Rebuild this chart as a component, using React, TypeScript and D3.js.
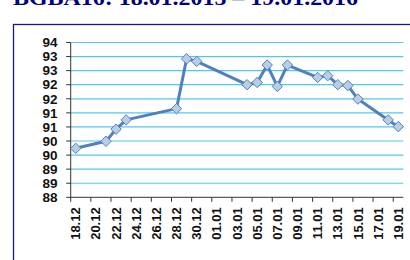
import React from 'react';
import * as d3 from 'd3';

// every calendar day on the axis (one band each)
const axisDays = [
  '18.12', '19.12', '20.12', '21.12', '22.12', '23.12', '24.12', '25.12', '26.12', '27.12',
  '28.12', '29.12', '30.12', '31.12', '01.01', '02.01', '03.01', '04.01', '05.01', '06.01',
  '07.01', '08.01', '09.01', '10.01', '11.01', '12.01', '13.01', '14.01', '15.01', '16.01',
  '17.01', '18.01', '19.01',
];

// trading days with a quote
const pointDates = [
  '18.12', '21.12', '22.12', '23.12', '28.12', '29.12', '30.12', '04.01', '05.01', '06.01',
  '07.01', '08.01', '11.01', '12.01', '13.01', '14.01', '15.01', '18.01', '19.01',
];
const pointValues = [
  90.14, 90.39, 90.82, 91.15, 91.55, 93.32, 93.23, 92.4, 92.48, 93.1,
  92.34, 93.1, 92.66, 92.72, 92.4, 92.37, 91.89, 91.15, 90.91,
];

const yTicks = [88.4, 88.9, 89.4, 89.9, 90.4, 90.9, 91.4, 91.9, 92.4, 92.9, 93.4, 93.9];

const title = 'BGBA16: 18.01.2015 – 19.01.2016';

const App: React.FC = () => {
  const width = 410;
  const height = 260;
  const plot = { left: 70.7, right: 403.3, top: 42.5, bottom: 197.3 };

  const x = d3.scaleBand<string>().domain(axisDays).range([plot.left, plot.right]).padding(0);
  const y = d3.scaleLinear().domain([88.4, 93.9]).range([plot.bottom, plot.top]);
  const fmt = d3.format('.0f');

  const pts = pointDates.map((d, i) => ({ d, v: pointValues[i] }));
  const line = d3.line<{ d: string; v: number }>()
    .x(p => (x(p.d) || 0) + x.bandwidth() / 2)
    .y(p => y(p.v));

  const labelDays = axisDays.filter((_, i) => i % 2 === 0);
  const font = 'Arial, "Liberation Sans", sans-serif';
  const diamond = 5.2;

  return (
    <svg width={width} height={height} style={{ position: 'fixed', left: 0, top: 0, background: '#fff' }}>
      {/* cropped title */}
      <text x={13} y={4.5} textLength={345} lengthAdjust="spacingAndGlyphs"
        fontFamily='"Liberation Serif", "Times New Roman", serif' fontWeight="bold" fontSize={21} fill="#000080">
        {title}
      </text>
      {/* chart frame */}
      <rect x={13.5} y={24.5} width={420} height={260} fill="none" stroke="#1a1a80" strokeWidth={1.3} />

      {/* gridlines */}
      {yTicks.slice(1).map(t => (
        <line key={t} x1={plot.left} x2={plot.right} y1={y(t)} y2={y(t)} stroke="#50C8F0" strokeWidth={1.2} />
      ))}

      {/* y axis */}
      <line x1={plot.left} x2={plot.left} y1={plot.top} y2={plot.bottom} stroke="#333" strokeWidth={1} />
      {yTicks.map(t => (
        <g key={t}>
          <line x1={plot.left - 4.5} x2={plot.left} y1={y(t)} y2={y(t)} stroke="#333" strokeWidth={1} />
          <text x={57.5} y={y(t)} dy="0.35em" textAnchor="end" fontFamily={font} fontWeight="bold" fontSize={13.5} fill="#111">
            {fmt(t)}
          </text>
        </g>
      ))}

      {/* x axis */}
      <line x1={plot.left} x2={plot.right} y1={plot.bottom} y2={plot.bottom} stroke="#333" strokeWidth={1} />
      {labelDays.map(d => {
        const x0 = x(d) || 0;
        const cx = x0 + x.bandwidth() / 2;
        return (
          <g key={d}>
            <line x1={x0} x2={x0} y1={plot.bottom} y2={plot.bottom + 4.5} stroke="#333" strokeWidth={1} />
            <text transform={`translate(${cx},${plot.bottom + 10}) rotate(-90)`} dy="0.35em" textAnchor="end"
              fontFamily={font} fontWeight="bold" fontSize={13} fill="#111">
              {d}
            </text>
          </g>
        );
      })}

      {/* series */}
      <path d={line(pts) || ''} fill="none" stroke="#4F81BD" strokeWidth={3} strokeLinejoin="round" />
      {pts.map(p => {
        const cx = (x(p.d) || 0) + x.bandwidth() / 2;
        const cy = y(p.v);
        return (
          <path key={p.d}
            d={`M${cx},${cy - diamond}L${cx + diamond},${cy}L${cx},${cy + diamond}L${cx - diamond},${cy}Z`}
            fill="#B9CDE5" stroke="#4F81BD" strokeWidth={1} />
        );
      })}
    </svg>
  );
};

export default App;
